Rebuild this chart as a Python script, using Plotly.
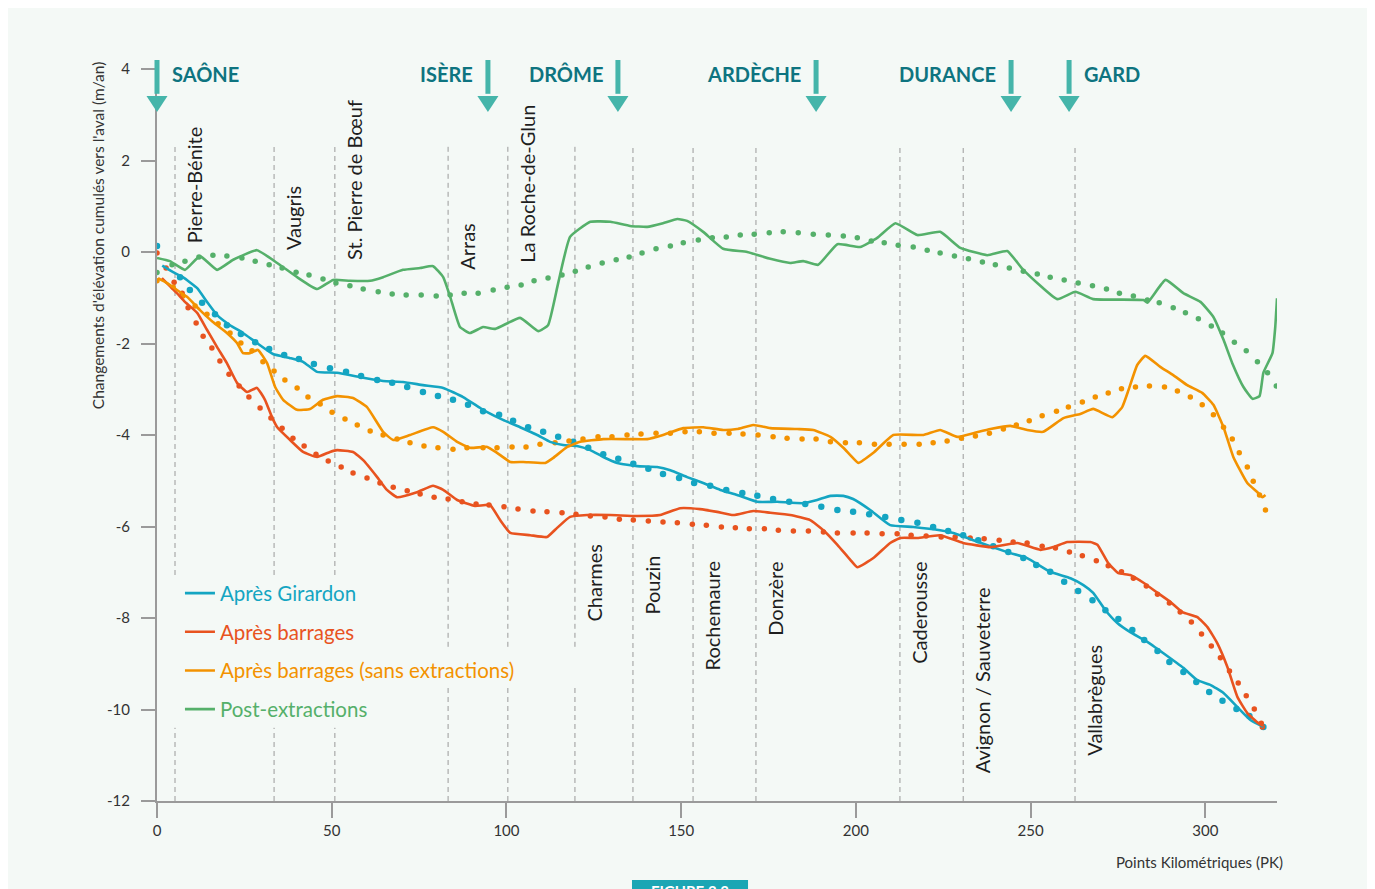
import plotly.graph_objects as go

# --- series : (PK, cumulative elevation change m/an) -------------------------
girardon = [(1.5, -0.30), (4.6, -0.44), (7.4, -0.55), (11.5, -0.79), (14.3, -1.09), (17.2, -1.38),
            (20.9, -1.60), (24.6, -1.77), (28.6, -1.99), (33.2, -2.23), (38.1, -2.32), (41.8, -2.40),
            (45.8, -2.62), (51.5, -2.64), (59.0, -2.75), (64.7, -2.82), (70.4, -2.84), (76.1, -2.91),
            (81.9, -2.97), (87.6, -3.17), (92.5, -3.41), (94.5, -3.50), (99.0, -3.67), (103.9, -3.83),
            (108.8, -4.00), (112.5, -4.15), (116.2, -4.22), (120.2, -4.24), (124.0, -4.33), (127.7, -4.48),
            (131.7, -4.61), (137.4, -4.68), (143.1, -4.70), (146.9, -4.77), (151.7, -4.92), (156.3, -5.05),
            (161.2, -5.20), (166.0, -5.31), (171.8, -5.46), (177.5, -5.46), (184.9, -5.49), (188.9, -5.42),
            (192.7, -5.33), (196.4, -5.33), (199.2, -5.40), (204.1, -5.64), (209.8, -5.97), (216.4, -6.01),
            (224.1, -6.08), (227.9, -6.14), (233.6, -6.30), (243.3, -6.56), (249.0, -6.69), (255.6, -6.99),
            (261.4, -7.13), (265.1, -7.28), (267.9, -7.45), (271.4, -7.83), (274.8, -8.11), (278.5, -8.31),
            (283.4, -8.52), (288.0, -8.77), (293.7, -9.09), (297.7, -9.36), (301.4, -9.46), (305.2, -9.64),
            (309.2, -9.95), (312.9, -10.23), (316.6, -10.38)]
girardon_trend = [(0, 0.13), (6.6, -0.55), (9.4, -0.83), (12.9, -1.11), (16.6, -1.36), (20.0, -1.60),
                  (24.0, -1.79), (28.1, -1.97), (32.1, -2.12), (36.4, -2.25), (40.6, -2.34), (44.9, -2.45),
                  (49.5, -2.54), (54.1, -2.62), (58.4, -2.71), (63.0, -2.80), (67.3, -2.86), (71.6, -2.95),
                  (76.1, -3.06), (80.4, -3.15), (84.7, -3.23), (89.0, -3.34), (93.3, -3.48), (97.9, -3.56),
                  (101.9, -3.69), (106.2, -3.83), (110.5, -3.93), (114.8, -4.04), (119.1, -4.15), (123.4, -4.28),
                  (127.7, -4.42), (132.0, -4.52), (136.3, -4.63), (140.6, -4.74), (144.8, -4.85), (149.4, -4.94),
                  (153.7, -5.05), (158.3, -5.11), (162.9, -5.20), (167.5, -5.27), (171.8, -5.33), (176.3, -5.40),
                  (180.9, -5.46), (185.5, -5.51), (190.1, -5.57), (194.7, -5.64), (199.2, -5.68), (203.8, -5.73),
                  (208.4, -5.79), (213.0, -5.86), (217.6, -5.92), (222.1, -6.01), (226.4, -6.10), (230.7, -6.19),
                  (235.0, -6.30), (239.3, -6.43), (243.6, -6.56), (247.9, -6.69), (251.6, -6.84), (255.6, -6.99),
                  (259.6, -7.21), (263.6, -7.41), (267.7, -7.61), (271.4, -7.83), (275.1, -8.02), (279.1, -8.26),
                  (282.5, -8.48), (286.3, -8.72), (289.7, -8.96), (293.7, -9.18), (297.4, -9.40), (301.1, -9.62),
                  (304.9, -9.81), (308.9, -9.99), (312.6, -10.14), (316.6, -10.38)]

barrages = [(1.4, -0.57), (5.7, -0.90), (8.0, -1.09), (11.5, -1.33), (14.3, -1.70), (17.2, -2.08),
            (20.0, -2.43), (22.9, -2.86), (25.8, -3.06), (28.6, -2.97), (30.9, -3.23), (32.9, -3.61),
            (34.4, -3.83), (38.1, -4.11), (41.8, -4.37), (45.8, -4.48), (49.5, -4.37), (51.5, -4.33),
            (56.1, -4.37), (59.0, -4.55), (63.0, -4.92), (65.8, -5.20), (68.7, -5.36), (74.4, -5.25),
            (79.0, -5.11), (81.9, -5.20), (85.9, -5.42), (91.0, -5.55), (95.3, -5.53), (98.2, -5.86),
            (101.1, -6.14), (106.8, -6.19), (111.6, -6.23), (114.5, -6.03), (118.2, -5.79), (123.1, -5.75),
            (129.7, -5.75), (137.4, -5.77), (144.0, -5.75), (149.7, -5.60), (155.4, -5.62), (160.3, -5.68),
            (164.9, -5.75), (170.6, -5.66), (175.5, -5.70), (181.2, -5.75), (186.9, -5.86), (190.7, -6.08),
            (194.7, -6.40), (198.4, -6.73), (200.4, -6.89), (205.0, -6.69), (209.8, -6.36), (212.7, -6.25),
            (217.6, -6.25), (224.1, -6.19), (230.7, -6.36), (238.5, -6.45), (246.2, -6.36), (252.8, -6.51),
            (256.5, -6.45), (260.5, -6.34), (267.1, -6.34), (269.1, -6.40), (272.2, -6.80), (275.1, -7.02),
            (278.5, -7.06), (282.3, -7.23), (286.3, -7.45), (290.0, -7.65), (293.4, -7.87), (297.7, -7.98),
            (300.6, -8.20), (303.4, -8.55), (306.3, -9.07), (309.2, -9.73), (312.0, -10.08), (315.2, -10.30),
            (316.6, -10.36)]
barrages_trend = [(0, -0.02), (2.6, -0.35), (4.9, -0.66), (7.2, -0.90), (8.9, -1.22), (11.2, -1.55),
                  (13.2, -1.84), (15.7, -2.10), (18.0, -2.38), (20.6, -2.67), (23.5, -2.93), (26.3, -3.17),
                  (29.5, -3.41), (32.6, -3.63), (35.8, -3.85), (38.9, -4.07), (42.1, -4.24), (45.5, -4.42),
                  (49.0, -4.57), (52.7, -4.70), (56.1, -4.83), (60.1, -4.94), (63.8, -5.05), (67.6, -5.14),
                  (71.6, -5.22), (75.3, -5.29), (79.3, -5.36), (83.3, -5.40), (87.3, -5.46), (91.3, -5.51),
                  (95.0, -5.53), (99.3, -5.57), (103.3, -5.62), (107.6, -5.66), (111.6, -5.68), (115.9, -5.70),
                  (119.9, -5.73), (124.0, -5.77), (128.2, -5.79), (132.3, -5.84), (136.3, -5.86), (140.6, -5.88),
                  (144.8, -5.90), (148.9, -5.92), (153.2, -5.95), (157.2, -5.97), (161.5, -6.01), (165.5, -6.03),
                  (169.5, -6.05), (173.8, -6.05), (177.8, -6.08), (182.1, -6.10), (186.4, -6.10), (190.7, -6.12),
                  (194.7, -6.14), (199.2, -6.14), (203.2, -6.14), (207.5, -6.16), (211.8, -6.16), (215.8, -6.19),
                  (220.1, -6.21), (224.4, -6.23), (228.4, -6.23), (232.7, -6.25), (236.7, -6.27), (241.0, -6.30),
                  (245.0, -6.34), (249.0, -6.36), (253.3, -6.43), (257.1, -6.47), (261.1, -6.56), (264.8, -6.64),
                  (268.8, -6.75), (272.2, -6.86), (276.0, -6.99), (279.4, -7.13), (283.1, -7.30), (286.3, -7.48),
                  (289.7, -7.67), (292.8, -7.87), (296.0, -8.09), (298.9, -8.35), (301.7, -8.61), (304.3, -8.87),
                  (306.9, -9.16), (309.4, -9.42), (311.7, -9.70), (314.0, -9.99), (316.0, -10.30), (316.3, -10.38)]

sans_extr = [(0.3, -0.57), (2.9, -0.68), (5.7, -0.83), (8.6, -0.98), (12.3, -1.27), (16.0, -1.53),
             (20.0, -1.77), (22.9, -1.99), (24.6, -2.21), (26.6, -2.21), (28.9, -2.14), (31.5, -2.43),
             (33.8, -2.95), (36.1, -3.23), (40.1, -3.45), (43.8, -3.43), (47.5, -3.23), (51.5, -3.15),
             (56.1, -3.19), (60.1, -3.39), (64.7, -3.93), (67.6, -4.11), (72.4, -4.00), (79.0, -3.83),
             (81.9, -3.93), (85.9, -4.15), (89.6, -4.28), (94.5, -4.26), (97.3, -4.39), (101.1, -4.59),
             (104.8, -4.59), (111.1, -4.61), (113.4, -4.50), (117.4, -4.26), (121.1, -4.15), (127.7, -4.09),
             (135.4, -4.09), (140.3, -4.09), (144.8, -4.00), (150.6, -3.85), (156.3, -3.83), (162.0, -3.89),
             (166.0, -3.87), (170.6, -3.78), (175.5, -3.85), (183.2, -3.87), (187.8, -3.89), (192.7, -4.04),
             (196.4, -4.28), (198.4, -4.44), (200.7, -4.61), (205.0, -4.39), (210.7, -4.00), (219.3, -4.00),
             (224.1, -3.89), (229.0, -4.04), (233.6, -3.96), (238.5, -3.87), (244.2, -3.80), (249.0, -3.89),
             (253.6, -3.93), (259.4, -3.63), (264.2, -3.54), (267.9, -3.43), (273.4, -3.61), (276.2, -3.39),
             (278.0, -3.02), (280.5, -2.47), (282.8, -2.27), (287.1, -2.51), (290.8, -2.69), (294.8, -2.91),
             (299.1, -3.08), (302.3, -3.34), (305.2, -3.83), (308.0, -4.48), (312.0, -5.05), (314.9, -5.25),
             (316.3, -5.36), (317.2, -5.31)]
sans_extr_trend = [(0, -0.63), (4.6, -0.77), (7.4, -0.96), (10.9, -1.18), (14.3, -1.36), (17.5, -1.57),
                   (20.9, -1.77), (24.0, -1.99), (27.2, -2.16), (30.3, -2.40), (33.5, -2.60), (36.6, -2.80),
                   (40.1, -2.97), (43.2, -3.17), (46.7, -3.32), (50.1, -3.50), (53.8, -3.65), (57.3, -3.78),
                   (61.0, -3.91), (64.7, -4.00), (68.7, -4.09), (72.4, -4.17), (76.4, -4.24), (80.4, -4.28),
                   (84.7, -4.31), (88.7, -4.28), (93.3, -4.28), (97.3, -4.28), (101.6, -4.26), (105.6, -4.26),
                   (109.6, -4.20), (113.9, -4.17), (117.9, -4.13), (121.9, -4.09), (126.2, -4.04), (130.2, -4.04),
                   (134.5, -4.00), (138.5, -3.98), (142.8, -3.96), (146.9, -3.96), (151.1, -3.93), (155.2, -3.93),
                   (159.4, -3.96), (163.7, -3.96), (167.7, -3.98), (172.0, -4.00), (176.3, -4.04), (180.3, -4.07),
                   (184.6, -4.09), (188.6, -4.09), (192.7, -4.15), (197.0, -4.17), (201.0, -4.17), (205.3, -4.20),
                   (209.5, -4.20), (213.8, -4.20), (218.1, -4.20), (222.1, -4.17), (226.1, -4.13), (230.2, -4.07),
                   (234.2, -4.02), (238.2, -3.96), (242.2, -3.87), (245.9, -3.78), (249.6, -3.69), (253.3, -3.58),
                   (257.4, -3.48), (260.8, -3.39), (264.8, -3.28), (268.5, -3.17), (272.2, -3.08), (276.0, -2.99),
                   (280.0, -2.95), (284.0, -2.93), (288.3, -2.95), (292.0, -3.04), (295.7, -3.17), (299.1, -3.34),
                   (302.3, -3.56), (305.2, -3.83), (307.7, -4.09), (309.7, -4.39), (312.0, -4.70), (313.7, -5.01),
                   (315.5, -5.31), (317.2, -5.64)]

post_extr = [(0, -0.13), (3.7, -0.20), (8.0, -0.39), (12.3, -0.09), (17.2, -0.39), (21.8, -0.17),
             (28.6, 0.04), (34.4, -0.24), (40.1, -0.55), (45.8, -0.81), (50.4, -0.61), (55.2, -0.63),
             (61.0, -0.63), (64.7, -0.55), (70.4, -0.39), (75.3, -0.35), (79.0, -0.31), (81.9, -0.55),
             (83.9, -0.98), (86.7, -1.64), (89.6, -1.77), (93.3, -1.64), (96.8, -1.68), (103.9, -1.44),
             (109.1, -1.73), (111.9, -1.60), (114.8, -0.68), (118.2, 0.33), (124.0, 0.66), (129.7, 0.66),
             (135.4, 0.57), (140.3, 0.55), (144.8, 0.63), (148.9, 0.72), (151.7, 0.68), (156.3, 0.44),
             (162.0, 0.07), (168.9, 0.00), (175.5, -0.15), (181.2, -0.24), (184.9, -0.20), (189.2, -0.28),
             (194.7, 0.17), (201.2, 0.11), (206.1, 0.31), (211.3, 0.63), (217.6, 0.37), (224.1, 0.44),
             (229.9, 0.09), (237.6, -0.07), (243.3, 0.02), (247.9, -0.39), (257.6, -1.03), (262.8, -0.87),
             (267.9, -1.03), (282.3, -1.05), (283.4, -1.11), (288.6, -0.61), (293.7, -0.90), (298.6, -1.09),
             (302.3, -1.42), (305.2, -1.92), (307.7, -2.43), (310.9, -2.95), (313.5, -3.21), (315.5, -3.15),
             (316.6, -2.64), (319.2, -2.21), (320.0, -1.64), (320.5, -1.01)]
post_extr_trend = [(0, -0.45), (4.3, -0.28), (8.0, -0.20), (12.0, -0.11), (16.0, -0.07), (20.0, -0.09),
                   (24.3, -0.13), (28.1, -0.20), (32.1, -0.28), (35.8, -0.35), (39.8, -0.44), (43.5, -0.50),
                   (47.5, -0.59), (51.2, -0.68), (55.2, -0.74), (59.0, -0.81), (63.3, -0.87), (67.3, -0.92),
                   (71.3, -0.94), (75.6, -0.94), (79.9, -0.96), (83.9, -0.94), (87.9, -0.90), (91.9, -0.90),
                   (96.2, -0.83), (100.2, -0.77), (104.2, -0.72), (107.9, -0.63), (111.9, -0.57), (115.9, -0.50),
                   (119.7, -0.42), (123.4, -0.33), (127.4, -0.24), (131.4, -0.17), (135.1, -0.11), (138.8, -0.02),
                   (142.8, 0.07), (146.9, 0.13), (150.6, 0.20), (154.9, 0.26), (158.9, 0.31), (162.9, 0.33),
                   (166.9, 0.37), (170.9, 0.39), (175.2, 0.42), (179.2, 0.44), (183.5, 0.42), (187.8, 0.39),
                   (192.1, 0.37), (196.4, 0.35), (200.4, 0.31), (204.4, 0.24), (208.1, 0.20), (212.1, 0.15),
                   (216.4, 0.11), (220.4, 0.04), (224.1, -0.02), (228.2, -0.09), (232.2, -0.15), (236.2, -0.22),
                   (239.9, -0.28), (243.9, -0.35), (247.9, -0.42), (251.9, -0.48), (255.6, -0.55), (259.6, -0.61),
                   (263.6, -0.68), (267.7, -0.74), (271.7, -0.81), (275.4, -0.90), (279.4, -0.96), (283.4, -1.05),
                   (286.8, -1.11), (290.8, -1.22), (294.3, -1.33), (298.0, -1.46), (301.7, -1.62), (304.9, -1.77),
                   (308.3, -1.97), (311.7, -2.16), (314.9, -2.40), (317.8, -2.64), (320.3, -2.93)]

# --- dams (barrages) and tributaries ----------------------------------------
dam_names = ["Pierre-Bénite", "Vaugris", "St. Pierre de Bœuf", "Arras", "La Roche-de-Glun",
             "Charmes", "Pouzin", "Rochemaure", "Donzère", "Caderousse",
             "Avignon / Sauveterre", "Vallabrègues"]
dam_pk = [5.15, 33.5, 50.9, 83.3, 100.4, 119.6, 136.2, 153.4, 171.4, 212.6, 230.7, 262.7]

river_names = ["SAÔNE", "ISÈRE", "DRÔME", "ARDÈCHE", "DURANCE", "GARD"]
river_pk = [0, 94.7, 131.9, 188.6, 244.4, 261.0]
river_side = ["right", "left", "left", "left", "left", "right"]

y_ticks = [4, 2, 0, -2, -4, -6, -8, -10, -12]
x_ticks = [0, 50, 100, 150, 200, 250, 300]

# label placement (layout only)
dam_label_y = [0.15, 0.0, -0.22, -0.44, -0.28, -6.34, -6.58, -6.73, -6.73, -6.73, -7.28, -8.55]
dam_gap = [(-10.4, -7.06), (-10.4, -7.06), (-10.4, -7.06), (-9.53, -8.63), (-9.53, -8.63), (-9.53, -8.63),
           None, None, None, None, None, None]

CYAN, RED, ORANGE, GREEN = "#14a5c2", "#e8531f", "#f39200", "#55b06a"
TEAL, DARK_TEAL = "#45b5aa", "#0e7480"
FONT = "Lato"
XMAX = 320.5

series = [
    ("Après Girardon", girardon, girardon_trend, CYAN, 6.5),
    ("Après barrages", barrages, barrages_trend, RED, 5.5),
    ("Après barrages (sans extractions)", sans_extr, sans_extr_trend, ORANGE, 5.5),
    ("Post-extractions", post_extr, post_extr_trend, GREEN, 5.5),
]

fig = go.Figure()

for name, solid, trend, color, dot in series:
    fig.add_trace(go.Scatter(
        x=[p[0] for p in trend], y=[p[1] for p in trend],
        mode="markers", marker=dict(size=dot, color=color),
        showlegend=False, hoverinfo="skip",
    ))

for name, solid, trend, color, dot in series:
    fig.add_trace(go.Scatter(
        x=[p[0] for p in solid], y=[p[1] for p in solid],
        mode="lines", line=dict(color=color, width=2.6, shape="spline", smoothing=0.4),
        name="<span style='color:%s'>%s</span>" % (color, name),
        legendgroup=name,
    ))

shapes = []
annotations = []

# background panel
shapes.append(dict(type="rect", xref="paper", yref="paper", layer="below",
                   x0=-0.1348, x1=1.0812, y0=-0.125, y1=1.0861,
                   fillcolor="#f4f9f6", line=dict(width=0)))
# figure tag at the bottom (cut off)
shapes.append(dict(type="rect", xref="paper", yref="paper",
                   x0=0.4241, x1=0.5277, y0=-0.14, y1=-0.1079,
                   fillcolor="#1ba6b4", line=dict(width=0)))
annotations.append(dict(text="<b>FIGURE 2.3</b>", xref="paper", yref="paper", x=0.4759, y=-0.1235,
                        xanchor="center", yanchor="middle",
                        showarrow=False, font=dict(family=FONT, size=15, color="white")))

# dam lines + labels
for i, (nm, pk) in enumerate(zip(dam_names, dam_pk)):
    segs = [(-12, 2.3)] if dam_gap[i] is None else [(-12, dam_gap[i][0]), (dam_gap[i][1], 2.3)]
    for y0, y1 in segs:
        shapes.append(dict(type="line", xref="x", yref="y", x0=pk, x1=pk, y0=y0, y1=y1,
                           line=dict(color="#9a9a9a", width=1, dash="5px,4px"), layer="below"))
    upper = i < 5
    annotations.append(dict(
        text=nm, x=pk, y=dam_label_y[i], xref="x", yref="y", showarrow=False,
        textangle=-90, xanchor="left", yanchor="bottom" if upper else "top", xshift=5,
        font=dict(family=FONT, size=20, color="#1e1e1e"),
    ))

# tributary arrows + labels
PY_TOP, PY_HEAD, PY_TIP = 1.0123, 0.9631, 0.9413
HW = 0.0094
for nm, pk, side in zip(river_names, river_pk, river_side):
    xp = pk / XMAX
    shapes.append(dict(type="line", xref="paper", yref="paper", x0=xp, x1=xp, y0=PY_TOP, y1=PY_HEAD + 0.003,
                       line=dict(color=TEAL, width=5)))
    shapes.append(dict(type="path", xref="paper", yref="paper",
                       path="M %f,%f L %f,%f L %f,%f Z" % (xp - HW, PY_HEAD, xp + HW, PY_HEAD, xp, PY_TIP),
                       fillcolor=TEAL, line=dict(width=0)))
    annotations.append(dict(
        text="<b>%s</b>" % nm, x=xp, y=0.9932, xref="paper", yref="paper", showarrow=False,
        xanchor="left" if side == "right" else "right", yanchor="middle",
        xshift=13 if side == "right" else -13,
        font=dict(family=FONT, size=20, color=DARK_TEAL),
    ))

# axis titles
annotations.append(dict(text="Changements d'élévation cumulés vers l'aval (m/an)",
                        xref="paper", yref="paper", x=-0.0527, y=0.773, textangle=-90,
                        xanchor="center", yanchor="middle",
                        showarrow=False, font=dict(family=FONT, size=15.5, color="#333333")))
annotations.append(dict(text="Points Kilométriques (PK)", xref="paper", yref="paper",
                        x=1.0071, y=-0.0833, xanchor="right", yanchor="middle", showarrow=False,
                        font=dict(family=FONT, size=15, color="#333333")))

fig.update_layout(
    width=1367, height=881,
    margin=dict(l=149, r=98, t=61, b=88),
    paper_bgcolor="white", plot_bgcolor="rgba(0,0,0,0)",
    font=dict(family=FONT, color="#333333"),
    shapes=shapes, annotations=annotations,
    showlegend=True,
    legend=dict(x=0.0205, y=0.311, xanchor="left", yanchor="top", bgcolor="rgba(0,0,0,0)",
                font=dict(family=FONT, size=20.5), tracegroupgap=9, itemwidth=30),
    xaxis=dict(range=[0, XMAX], tickvals=x_ticks, showgrid=False,
               zeroline=False, showline=True, linecolor="#9a9a9a", linewidth=1.5,
               ticks="outside", ticklen=15, tickcolor="#9a9a9a", tickwidth=1.5,
               tickfont=dict(family=FONT, size=15, color="#333333")),
    yaxis=dict(range=[-12, 4], tickvals=y_ticks, ticktext=[str(v) for v in y_ticks],
               showgrid=False, zeroline=False, showline=True,
               linecolor="#9a9a9a", linewidth=2, ticks="outside", ticklen=14, tickcolor="#9a9a9a",
               tickwidth=1.5, ticklabelstandoff=8,
               tickfont=dict(family=FONT, size=15, color="#333333")),
)

fig.write_html("out.html")
